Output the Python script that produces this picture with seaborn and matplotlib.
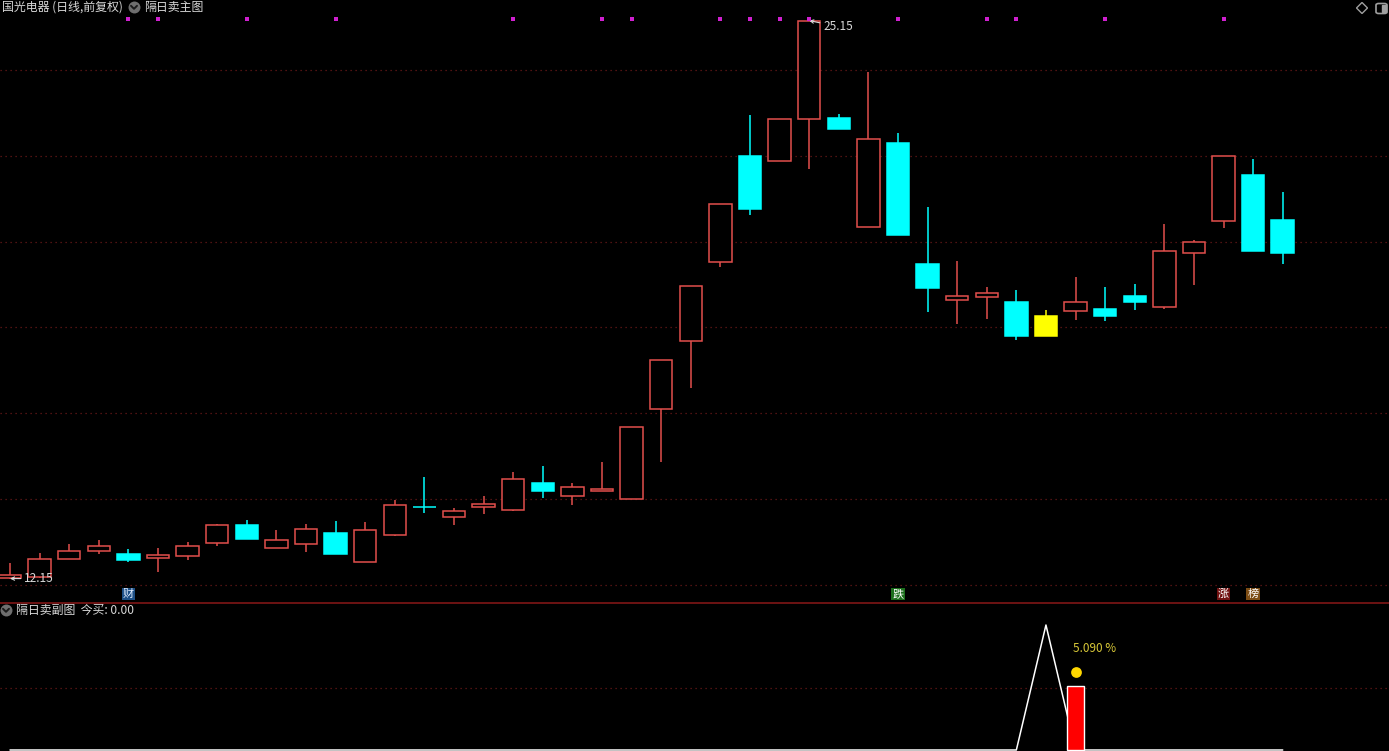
import matplotlib
matplotlib.use("Agg")
import matplotlib.pyplot as plt
import matplotlib.transforms as mtransforms
from matplotlib.lines import Line2D
from matplotlib.patches import FancyBboxPatch, Polygon, Rectangle
import numpy as np
import pandas as pd
import seaborn as sns

# ---------------- data ----------------
opens = [12.17, 12.19, 12.61, 12.79, 12.72, 12.63, 12.68, 12.98, 13.40, 12.86,
         12.96, 13.21, 12.54, 13.16, 13.82, 13.58, 13.82, 13.75, 14.38, 14.07,
         14.19, 14.00, 16.10, 17.69, 19.53, 22.00, 21.88, 22.86, 22.88, 20.34,
         22.30, 19.48, 18.64, 18.71, 18.59, 18.27, 18.38, 18.43, 18.73, 18.48,
         19.74, 20.48, 21.55, 20.50]
closes = [12.24, 12.61, 12.79, 12.91, 12.58, 12.70, 12.91, 13.40, 13.07, 13.05,
          13.30, 12.72, 13.28, 13.86, 13.81, 13.72, 13.89, 14.47, 14.19, 14.28,
          14.24, 15.68, 17.24, 18.97, 20.88, 20.76, 22.86, 25.15, 22.62, 22.39,
          20.15, 18.92, 18.73, 18.80, 17.80, 17.80, 18.59, 18.27, 18.59, 19.78,
          19.99, 22.00, 19.78, 19.74]
highs = [12.51, 12.75, 12.96, 13.05, 12.84, 12.86, 13.00, 13.42, 13.51, 13.28,
         13.42, 13.49, 13.47, 13.98, 14.52, 13.79, 14.07, 14.63, 14.77, 14.38,
         14.87, 15.68, 17.24, 18.97, 20.88, 22.95, 22.86, 25.15, 22.97, 23.95,
         22.53, 20.81, 19.55, 18.94, 18.87, 18.41, 19.18, 18.94, 19.01, 20.41,
         20.04, 22.00, 21.93, 21.16]
lows = [12.15, 12.17, 12.61, 12.72, 12.54, 12.30, 12.58, 12.91, 13.07, 12.86,
        12.77, 12.72, 12.54, 13.14, 13.68, 13.40, 13.65, 13.72, 14.03, 13.86,
        14.19, 14.00, 14.87, 16.59, 19.41, 20.62, 21.88, 21.69, 22.62, 20.34,
        20.15, 18.36, 18.08, 18.20, 17.71, 17.80, 18.17, 18.15, 18.41, 18.43,
        18.99, 20.32, 19.78, 19.48]
highlight_days = [35]                       # yellow candle
signal_days = [4, 5, 8, 11, 17, 20, 21, 24, 25, 26, 27, 30, 33, 34, 37, 41]
tag_days = [4, 30, 41, 42]
tag_chars = ["财", "跌", "涨", "榜"]
sub_line = [0] * 44
sub_line[35] = 10
sub_bar_day = 36
sub_bar_value = 5.09
sub_label = "5.090 %"
price_grid = [12, 14, 16, 18, 20, 22, 24]
sub_grid = [5]
hi_label, lo_label = "25.15", "12.15"

n = len(opens)
idx = np.arange(n)
df = pd.DataFrame({"i": idx, "open": opens, "close": closes, "high": highs, "low": lows})

# ---------------- style ----------------
sns.set_theme(style="dark")
plt.rcParams["font.family"] = ["Noto Sans CJK SC", "DejaVu Sans"]
plt.rcParams["axes.unicode_minus"] = False

W, H = 1389, 751
fig = plt.figure(figsize=(W / 100, H / 100), dpi=100, facecolor="black")


def fx(px):
    return px / W


def fy(py):
    return 1 - py / H


ax = fig.add_axes([0, fy(602), 1, 602 / H])
ax2 = fig.add_axes([0, 0, 1, fy(603)])
for a in (ax, ax2):
    a.set_facecolor("black")
    for s in a.spines.values():
        s.set_visible(False)
    a.set_xticks([])
    a.set_yticks([])
    a.grid(False)
    a.set_xlim(-0.338, 46.59)

ax.set_ylim(11.604, 25.63)
ax2.set_ylim(-0.08, 11.76)

gridc = "#6a1818"
for v in price_grid:
    ax.axhline(v, color=gridc, lw=0.9, ls=(0, (1, 3)), zorder=0)
for v in sub_grid:
    ax2.axhline(v, color=gridc, lw=0.9, ls=(0, (1, 3)), zorder=0)

RED = "#e24f4c"
CYAN = "#00ffff"
YEL = "#ffff00"
bw = 0.76
for r in df.itertuples():
    top, bot = max(r.open, r.close), min(r.open, r.close)
    if r.i in highlight_days:
        col, fill = YEL, YEL
    elif r.close > r.open:
        col, fill = RED, "black"
    else:
        col, fill = CYAN, CYAN
    if fill == "black":
        ax.vlines(r.i, top, r.high, color=col, lw=1.1, zorder=2)
        ax.vlines(r.i, r.low, bot, color=col, lw=1.1, zorder=2)
    else:
        ax.vlines(r.i, r.low, r.high, color=col, lw=1.1, zorder=2)
    ax.bar(r.i, max(top - bot, 0.005), bottom=bot, width=bw, facecolor=fill,
           edgecolor=col, linewidth=1.1, zorder=3)

# signal dots on top
blend = mtransforms.blended_transform_factory(ax.transData, ax.transAxes)
sns.scatterplot(x=[i for i in signal_days], y=[1 - 19 / 602] * len(signal_days),
                ax=ax, color="#d020d0", marker="s", s=10, linewidth=0,
                transform=blend, zorder=5, legend=False)
ax.set_ylim(11.604, 25.63)

# tags at bottom of main panel
tag_style = {"财": ("#1d4f86", "#e0ecff"), "跌": ("#1c6e1c", "#ffffff"),
             "涨": ("#701010", "#ffffff"), "榜": ("#7c4c14", "#ffffff")}
for d, ch in zip(tag_days, tag_chars):
    bg, fc = tag_style[ch]
    ax.text(d, 1 - 594 / 602, ch, transform=blend, ha="center", va="center",
            fontsize=8, color=fc,
            bbox=dict(boxstyle="square,pad=0.12", fc=bg, ec="none"), zorder=6)

# hi/lo labels
txtc = "#d8d8d8"
ax.annotate(hi_label, xy=(27, 25.15), xytext=(14, -6), textcoords="offset pixels",
            ha="left", va="center", color=txtc, fontsize=8.5,
            arrowprops=dict(arrowstyle="->", color=txtc, lw=0.8,
                            shrinkA=0, shrinkB=0, mutation_scale=6))
ax.annotate(lo_label, xy=(0, 12.15), xytext=(14, 0), textcoords="offset pixels",
            ha="left", va="center", color=txtc, fontsize=8.5,
            arrowprops=dict(arrowstyle="->", color=txtc, lw=0.8,
                            shrinkA=0, shrinkB=0, mutation_scale=6))

# separator line
fig.add_artist(Line2D([0, 1], [fy(602.5), fy(602.5)], color="#801616", lw=1.2))

# sub panel
sns.lineplot(x=idx, y=sub_line, ax=ax2, color="white", lw=1.1, zorder=3)
ax2.bar(sub_bar_day, sub_bar_value, width=0.58, color="#ff0000", zorder=4)
ax2.scatter([sub_bar_day], [6.25], s=60, color="#ffd700", zorder=5, linewidth=0)
ax2.text(sub_bar_day - 0.1, 8.1, sub_label, color="#d8c838", fontsize=8.5,
         ha="left", va="center", zorder=5)
ax2.set_xlim(-0.338, 46.59)
ax2.set_ylim(-0.08, 11.76)


# header texts and icons
def chevron_icon(px, py):
    fig.add_artist(Line2D([fx(px)], [fy(py)], marker="o", markersize=8.6,
                          markerfacecolor="#6e6e6e", markeredgecolor="none",
                          linestyle="none", zorder=10))
    fig.add_artist(Line2D([fx(px - 3), fx(px), fx(px + 3)],
                          [fy(py - 1.2), fy(py + 1.8), fy(py - 1.2)],
                          color="#1a1a1a", lw=1.4, zorder=11))


fig.text(fx(2), fy(7), "国光电器 (日线,前复权)", color=txtc, fontsize=8.6,
         ha="left", va="center")
chevron_icon(134, 7)
fig.text(fx(144), fy(7), "隔日卖主图", color=txtc, fontsize=8.6, ha="left", va="center")

chevron_icon(6, 610)
fig.text(fx(16), fy(610), "隔日卖副图  今买: 0.00", color=txtc, fontsize=8.6,
         ha="left", va="center")

# top-right icons
dx, dyy = 1362, 8
fig.add_artist(Polygon([(fx(dx), fy(dyy - 5.5)), (fx(dx + 5.5), fy(dyy)),
                        (fx(dx), fy(dyy + 5.5)), (fx(dx - 5.5), fy(dyy))],
                       closed=True, fill=False, ec="#a0a0a0", lw=1.0,
                       transform=fig.transFigure))
fig.add_artist(FancyBboxPatch((fx(1376), fy(13.5)), 11 / W, 10 / H,
                              boxstyle="round,pad=0,rounding_size=0.002",
                              fill=False, ec="#a0a0a0", lw=1.2,
                              transform=fig.transFigure))
fig.add_artist(Rectangle((fx(1382), fy(12)), 4 / W, 7 / H, color="#a0a0a0",
                         transform=fig.transFigure))

fig.savefig("out.png", dpi=100, facecolor="black")
